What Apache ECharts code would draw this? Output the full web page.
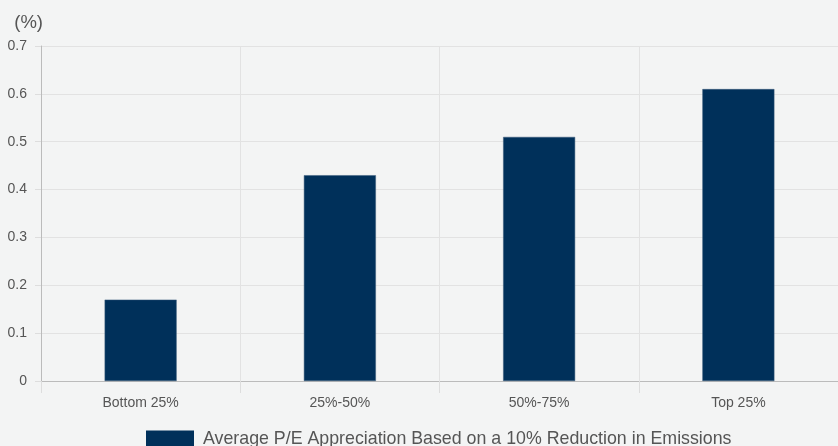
<!DOCTYPE html>
<html>
<head>
<meta charset="utf-8">
<script src="https://cdn.jsdelivr.net/npm/echarts@6/dist/echarts.min.js"></script>
<style>
  html, body { margin: 0; padding: 0; background: #f3f4f4; }
  #chart { width: 838px; height: 446px; }
</style>
</head>
<body>
<div id="chart"></div>
<script>
// Emission quartiles and the average P/E appreciation for each
const categories = ['Bottom 25%', '25%-50%', '50%-75%', 'Top 25%'];
const peAppreciation = [0.17, 0.43, 0.51, 0.61];
const seriesName = 'Average P/E Appreciation Based on a 10% Reduction in Emissions';

const chart = echarts.init(document.getElementById('chart'));
chart.setOption({
  backgroundColor: '#f3f4f4',
  textStyle: { fontFamily: 'Liberation Sans, Arial, sans-serif' },
  grid: { left: 41, right: -4, top: 46, bottom: 65 },
  legend: {
    top: 430,
    left: 146,
    padding: 0,
    icon: 'rect',
    itemWidth: 48,
    itemHeight: 17,
    itemGap: 10,
    itemStyle: { borderWidth: 0 },
    textStyle: { color: '#555', fontSize: 17.8, padding: [0, 0, 0, 4] },
    data: [seriesName]
  },
  xAxis: {
    type: 'category',
    data: categories,
    axisLine: { lineStyle: { color: '#bbb' } },
    axisTick: { show: true, length: 12, lineStyle: { color: '#ddd' } },
    splitLine: { show: true, lineStyle: { color: '#e2e2e2' } },
    axisLabel: { color: '#555', fontSize: 14, margin: 15 }
  },
  yAxis: {
    type: 'value',
    min: 0,
    max: 0.7,
    interval: 0.1,
    name: '(%)',
    nameGap: 14,
    nameTextStyle: { color: '#555', fontSize: 18.5, align: 'right', padding: [0, -2, 0, 0] },
    axisLine: { show: true, lineStyle: { color: '#bbb' } },
    axisTick: { show: true, length: 6, lineStyle: { color: '#ddd' } },
    splitLine: { lineStyle: { color: '#e2e2e2' } },
    axisLabel: { color: '#555', fontSize: 14, margin: 14 }
  },
  series: [{
    name: seriesName,
    type: 'bar',
    data: peAppreciation,
    barWidth: 72,
    itemStyle: { color: '#00305a', borderColor: '#3a5a7a', borderWidth: 0.5 }
  }]
});
</script>
</body>
</html>
